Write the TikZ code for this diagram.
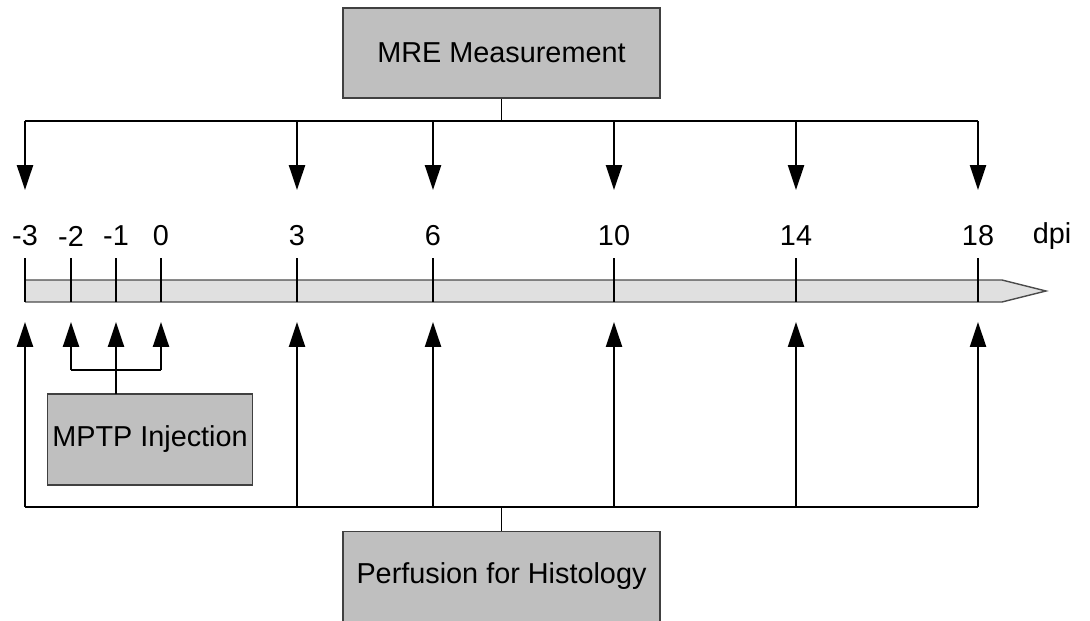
\documentclass[tikz,border=0pt]{standalone}
\usepackage{fontspec}
\setmainfont{Liberation Sans}
\usetikzlibrary{arrows.meta,positioning}

\begin{document}
\begin{tikzpicture}[
    x=0.025cm, y=-0.025cm,
    stagebox/.style={rectangle, draw=black!75, line width=1pt, fill=black!25, minimum width=7.925cm, minimum height=2.25cm, align=center, font=\fontsize{20.5}{24}\selectfont},
    daylabel/.style={font=\fontsize{20.5}{24}\selectfont, inner sep=0pt},
    line/.style={line width=1.4pt, draw=black},
    arrow/.style={line, -{Triangle[length=0.62cm, width=0.4cm]}}
]
\useasboundingbox (0,0) rectangle (1090,620);

% Time axis
\draw[line width=1pt, draw=black!70, fill=black!12] (25,280) -- (1002,280) -- (1046,291) -- (1002,302) -- (25,302);
\node[daylabel] (dpi) at (1052,236) {dpi};

% Days and ticks
\foreach \x/\d/\n in {25/-3/a, 71/-2/b, 116/-1/c, 161/0/d, 297/3/e, 433/6/f, 614/10/g, 796/14/h, 978/18/i} {
    \node[daylabel] (lab\n) at (\x,236) {\d};
    \coordinate (tick\n) at (\x,258);
    \coordinate (base\n) at (\x,302);
    \draw[line] (tick\n) -- (base\n);
    \coordinate (top\n) at (\x,121);
    \coordinate (bot\n) at (\x,507);
    \coordinate (dn\n) at (\x,190);
    \coordinate (up\n) at (\x,322);
}

% Boxes
\node[stagebox] (mre) at (501.5,53) {MRE Measurement};
\node[stagebox] (perf) at (501.5,576.5) {Perfusion for Histology};
\node[stagebox, minimum width=5.1cm, minimum height=2.275cm] (mptp) at (150,439.5) {MPTP Injection};

% MRE connections
\coordinate (mrebus) at (501.5,121);
\draw[line] (mre.south) -- (mrebus);
\draw[line] (topa) -- (topi);
\foreach \n in {a,e,f,g,h,i}
    \draw[arrow] (top\n) -- (dn\n);

% Perfusion connections
\coordinate (perfbus) at (501.5,507);
\draw[line] (perf.north) -- (perfbus);
\draw[line] (bota) -- (boti);
\foreach \n in {a,e,f,g,h,i}
    \draw[arrow] (bot\n) -- (up\n);

% Injection connections
\coordinate (injstem) at (116,394);
\coordinate (injb) at (71,370);
\coordinate (injc) at (116,370);
\coordinate (injd) at (161,370);
\draw[line] (injstem) -- (injc);
\draw[line] (injb) -- (injd);
\foreach \n in {b,c,d}
    \draw[arrow] (inj\n) -- (up\n);

\end{tikzpicture}
\end{document}
